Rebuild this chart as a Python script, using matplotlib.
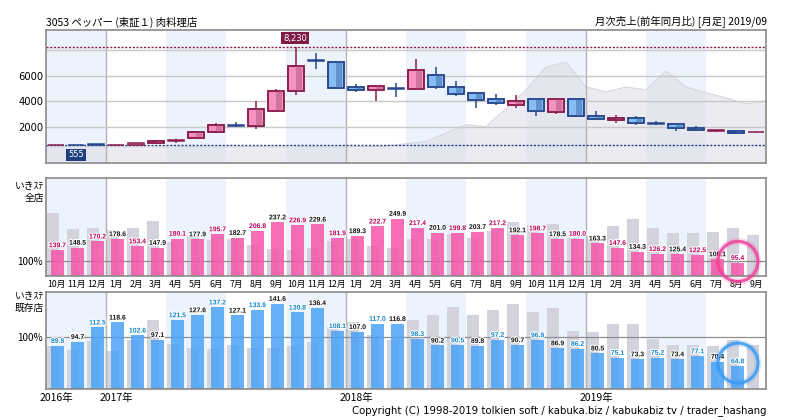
import numpy as np
import matplotlib
matplotlib.use("Agg")
import matplotlib.pyplot as plt
import matplotlib.patheffects as pe

plt.rcParams['font.family'] = ['Noto Sans CJK JP', 'DejaVu Sans']

# months Oct 2016 .. Sep 2019
MONTHS = ['10月', '11月', '12月', '1月', '2月', '3月', '4月', '5月', '6月',
          '7月', '8月', '9月', '10月', '11月', '12月', '1月', '2月', '3月',
          '4月', '5月', '6月', '7月', '8月', '9月', '10月', '11月', '12月',
          '1月', '2月', '3月', '4月', '5月', '6月', '7月', '8月', '9月']
YEAR_POS = [0.5, 3.5, 15.5, 27.5]
YEAR_LABELS = ['2016年', '2017年', '2018年', '2019年']

# monthly candles (yen)
OPEN = [560, 580, 580, 560, 600, 740, 930, 1150, 1610, 2140, 2050, 3290,
        4850, 7200, 7080, 5110, 4880, 5020, 5000, 6040, 5110, 4640, 4180, 3760,
        4180, 3140, 4180, 2850, 2510, 2700, 2300, 2230, 1950, 1680, 1690, 1570]
HIGH = [600, 590, 590, 580, 760, 1010, 1090, 1670, 2310, 2360, 4000, 4950,
        8230, 7830, 7160, 5370, 5250, 5420, 7310, 6690, 5600, 4650, 4590, 4490,
        4200, 4180, 4280, 3270, 2930, 2850, 2470, 2240, 2080, 1740, 1760, 1600]
LOW = [560, 555, 565, 555, 590, 700, 750, 1100, 1530, 2000, 1840, 3140,
       4540, 6530, 4950, 4720, 4020, 4380, 4950, 5000, 4430, 3450, 3760, 3520,
       2880, 3030, 2800, 2510, 2330, 2120, 2120, 1660, 1750, 1620, 1520, 1560]
CLOSE = [590, 565, 570, 575, 740, 900, 960, 1610, 2155, 2110, 3400, 4820,
         6750, 7160, 5080, 4880, 5210, 4980, 6430, 5160, 4610, 4100, 3870, 4020,
         3240, 4180, 2900, 2620, 2720, 2280, 2260, 1920, 1770, 1700, 1530, 1590]
PRICE_HIGH = 8230
PRICE_LOW = 555

# grey background area in price panel (at month boundaries)
AREA = [450, 450, 450, 450, 450, 450, 450, 450, 450, 450, 450, 450,
        450, 450, 450, 455, 460, 500, 680, 870, 1520, 2180, 2020, 3420,
        4900, 6690, 7080, 5130, 4750, 5130, 4900, 6380, 5130, 4690, 4280, 3810,
        4050]

# いきステ 全店 (YoY %), and previous year's values
ALL_STORE = [139.7, 148.5, 170.2, 178.6, 153.4, 147.9, 180.1, 177.9, 195.7,
             182.7, 206.8, 237.2, 226.9, 229.6, 181.9, 189.3, 222.7, 249.9,
             217.4, 201.0, 199.8, 203.7, 217.2, 192.1, 198.7, 178.5, 180.0,
             163.3, 147.6, 134.3, 126.2, 125.4, 122.5, 108.1, 95.4]
ALL_PREV = [270, 214, 217, 211, 217, 242, 168, 190, 175, 177, 157, 143,
            139.7, 148.5, 170.2, 178.6, 153.4, 147.9, 180.1, 177.9, 195.7,
            182.7, 206.8, 237.2, 226.9, 229.6, 181.9, 189.3, 222.7, 249.9,
            217.4, 201.0, 199.8, 203.7, 217.2, 192.1]

# いきステ 既存店
EXIST_STORE = [89.8, 94.7, 112.5, 118.6, 102.6, 97.1, 121.5, 127.6, 137.2,
               127.1, 133.9, 141.6, 130.8, 136.4, 108.1, 107.0, 117.0, 116.8,
               98.3, 90.2, 90.5, 89.8, 97.2, 90.7, 96.8, 86.9, 86.2,
               80.5, 75.1, 73.3, 75.2, 73.4, 77.1, 70.4, 64.8]
EXIST_PREV = [90.0, 84.6, 96.2, 83.8, 97.0, 121.0, 92.4, 87.1, 85.9, 90.8, 87.1, 87.1,
              89.8, 94.7, 112.5, 118.6, 102.6, 97.1, 121.5, 127.6, 137.2,
              127.1, 133.9, 141.6, 130.8, 136.4, 108.1, 107.0, 117.0, 116.8,
              98.3, 90.2, 90.5, 89.8, 97.2, 90.7]

W, H = 786, 420
BAND = '#edf3fc'
YEAR_LINE = '#b4b4b4'
SPINE = '#8a8a8a'


def box(l, t, r, b):
    return [l / W, 1 - b / H, (r - l) / W, (b - t) / H]


def style_panel(ax):
    ax.set_xlim(0, 36)
    for q in range(0, 36, 6):
        ax.axvspan(q, q + 3, color=BAND, zorder=0, lw=0)
    for x in (3, 15, 27):
        ax.axvline(x, color=YEAR_LINE, lw=1, zorder=1.2)
    for s in ax.spines.values():
        s.set_color(SPINE)
        s.set_linewidth(1.2)
    ax.tick_params(length=0, labelsize=7)


fig = plt.figure(figsize=(W / 100, H / 100), dpi=100)
fig.patch.set_facecolor('white')

# Price panel
ax1 = fig.add_axes(box(46, 30, 766, 163))
style_panel(ax1)
ymin1, ymax1 = -820, 9600
ax1.set_ylim(ymin1, ymax1)
ax1.fill_between(np.arange(len(AREA)), AREA, ymin1, color='#dcdce6',
                 alpha=0.55, lw=0, zorder=1)
ax1.plot(np.arange(len(AREA)), AREA, color='#d4d4de', lw=0.8, zorder=1.1)
for yv in (2000, 4000, 6000, 8000):
    ax1.axhline(yv, color='#c8c8c8', lw=1, zorder=1.3)
ax1.axhline(PRICE_HIGH, color='#8b1a4a', lw=1, ls=(0, (1.5, 1.2)), zorder=1.4)
ax1.axhline(PRICE_LOW, color='#1f3f8f', lw=1, ls=(0, (1.5, 1.2)), zorder=1.4)

cw = 0.83
for i in range(len(OPEN)):
    o, h, l, c = OPEN[i], HIGH[i], LOW[i], CLOSE[i]
    up = c >= o
    edge = '#8a1c4c' if up else '#27478a'
    light = '#f592c1' if up else '#86bdf3'
    dark = '#d2759e' if up else '#6092d0'
    xc = i + 0.5
    ax1.vlines(xc, l, h, color=edge, lw=1.1, zorder=2)
    bot = min(o, c)
    hgt = max(abs(c - o), 60)
    ax1.bar(xc, hgt, width=cw, bottom=bot, color=light, edgecolor=edge,
            lw=1.1, zorder=3)
    if abs(c - o) > 150:
        ax1.bar(xc + cw * 0.16, hgt, width=cw * 0.38, bottom=bot, color=dark,
                lw=0, zorder=3.1)
        ax1.bar(xc, hgt, width=cw, bottom=bot, color='none', edgecolor=edge,
                lw=1.1, zorder=3.2)

ax1.set_xticks([])
ax1.set_yticks([2000, 4000, 6000])
ax1.tick_params(axis='y', pad=2, labelsize=7.2)
for t in ax1.get_yticklabels():
    t.set_family('DejaVu Sans')

hi_idx = HIGH.index(PRICE_HIGH)
lo_idx = LOW.index(PRICE_LOW)
ax1.annotate(f'{PRICE_HIGH:,}', (hi_idx + 0.45, PRICE_HIGH), xytext=(0, 3.5),
             textcoords='offset points', ha='center', va='bottom',
             fontsize=6, color='white', family='DejaVu Sans', zorder=6,
             bbox=dict(boxstyle='square,pad=0.2', fc='#7e1b46', ec='none'))
ax1.annotate(f'{PRICE_LOW}', (lo_idx + 0.5, PRICE_LOW), xytext=(0, -3.5),
             textcoords='offset points', ha='center', va='top',
             fontsize=6, color='white', family='DejaVu Sans', zorder=6,
             bbox=dict(boxstyle='square,pad=0.2', fc='#1f3f7f', ec='none'))

fig.text(46 / W, 1 - 22.5 / H, '3053 ペッパー (東証１) 肉料理店',
         ha='left', va='center', fontsize=7.5)
fig.text(767 / W, 1 - 22.5 / H, '月次売上(前年同月比) [月足] 2019/09',
         ha='right', va='center', fontsize=7.5)

halo = [pe.withStroke(linewidth=1.6, foreground='white')]


def bar_panel(ax, prev, cur, ylo, yhi, color, label_col):
    style_panel(ax)
    ax.set_ylim(ylo, yhi)
    xs = np.arange(len(prev))
    ax.bar(xs + 0.33, np.array(prev) - ylo, width=0.6, bottom=ylo,
           color='#d3d3de', lw=0, zorder=1)
    ax.axhline(100, color='#8e8e8e', lw=0.9, zorder=1.5)
    xc = np.arange(len(cur)) + 0.575
    ax.bar(xc, np.array(cur) - ylo, width=0.65, bottom=ylo,
           color=color, alpha=0.85, lw=0, zorder=2)
    for i, v in enumerate(cur):
        ax.annotate(f'{v:.1f}', (xc[i], v), xytext=(0, 0.6),
                    textcoords='offset points', ha='center', va='bottom',
                    fontsize=4.9, family='Liberation Sans', fontweight='bold',
                    color=label_col if i % 2 == 0 else '#111111',
                    path_effects=halo, zorder=4)
    ax.set_yticks([100])
    ax.set_yticklabels(['100%'])
    ax.tick_params(axis='y', pad=2, labelsize=7.2)


ax2 = fig.add_axes(box(46, 178, 766, 275.5))
bar_panel(ax2, ALL_PREV, ALL_STORE, 50.7, 392, '#f655a8', '#b8005c')
ax2.set_xticks(np.arange(36) + 0.5)
ax2.set_xticklabels(MONTHS, fontsize=6.3)
ax2.tick_params(axis='x', pad=3)

ax3 = fig.add_axes(box(46, 292, 766, 388.5))
bar_panel(ax3, EXIST_PREV, EXIST_STORE, 37.2, 156, '#4aa3f6', '#0f86c8')
ax3.set_xticks(YEAR_POS)
ax3.set_xticklabels(YEAR_LABELS, fontsize=7.5)
ax3.tick_params(axis='x', pad=3)

fig.text(44 / W, 1 - 186 / H, 'いきｽﾃ', ha='right', va='center', fontsize=7)
fig.text(44 / W, 1 - 197.5 / H, '全店', ha='right', va='center', fontsize=7)
fig.text(44 / W, 1 - 296.5 / H, 'いきｽﾃ', ha='right', va='center', fontsize=7)
fig.text(44 / W, 1 - 307.5 / H, '既存店', ha='right', va='center', fontsize=7)

# highlight rings on latest month
for ax, yv, col in ((ax2, 100, '#f0409a'), (ax3, 68.5, '#3a9af0')):
    ax.scatter([34.6], [yv], s=830, facecolors='none', edgecolors=col,
               linewidths=5, alpha=0.18, clip_on=False, zorder=5)
    ax.scatter([34.6], [yv], s=830, facecolors='none', edgecolors=col,
               linewidths=2.2, alpha=0.85, clip_on=False, zorder=5)

fig.text(767 / W, 1 - 411 / H,
         'Copyright (C) 1998-2019 tolkien soft / kabuka.biz / kabukabiz tv / trader_hashang',
         ha='right', va='center', fontsize=7.3, family='DejaVu Sans')

fig.savefig('out.png', dpi=100)
